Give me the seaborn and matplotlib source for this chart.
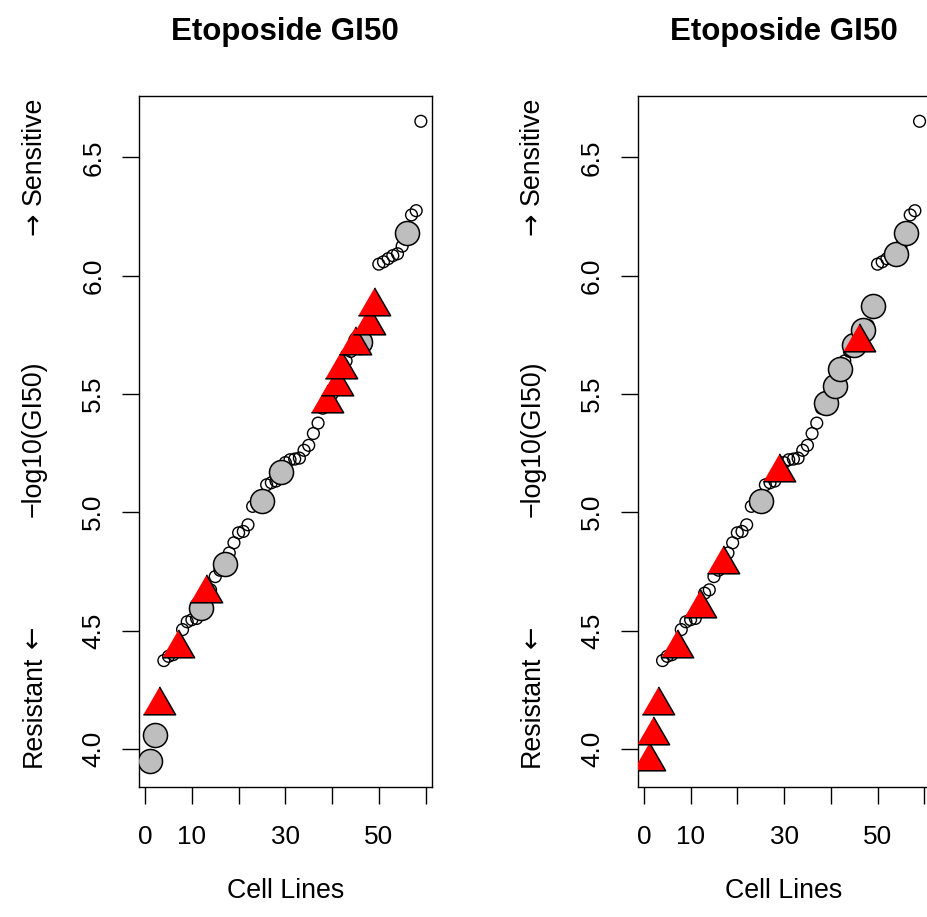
import numpy as np
import pandas as pd
import matplotlib
matplotlib.use("Agg")
import matplotlib.pyplot as plt
import seaborn as sns

sns.set_style("white")
plt.rcParams["font.family"] = ["Liberation Sans", "DejaVu Sans"]
plt.rcParams["text.color"] = "black"
plt.rcParams["axes.labelcolor"] = "black"
plt.rcParams["xtick.color"] = "black"
plt.rcParams["ytick.color"] = "black"

# ---- data (sorted -log10(GI50) per cell line) ----
gi50 = [3.948, 4.060, 4.185, 4.373, 4.391, 4.398, 4.427, 4.504, 4.537, 4.546,
        4.551, 4.595, 4.658, 4.672, 4.728, 4.755, 4.780, 4.828, 4.871, 4.913,
        4.919, 4.947, 5.025, 5.035, 5.046, 5.116, 5.125, 5.132, 5.172, 5.210,
        5.222, 5.225, 5.229, 5.262, 5.283, 5.333, 5.377, 5.440, 5.462, 5.500,
        5.532, 5.605, 5.640, 5.680, 5.706, 5.719, 5.771, 5.790, 5.874, 6.049,
        6.059, 6.072, 6.085, 6.093, 6.125, 6.179, 6.257, 6.275, 6.653]
cell_line = list(range(1, len(gi50) + 1))

left_grey = [1, 2, 12, 17, 25, 29, 46, 56]
left_red = [3, 7, 13, 39, 41, 42, 45, 48, 49]
right_grey = [25, 39, 41, 42, 45, 47, 49, 54, 56]
right_red = [1, 2, 3, 7, 12, 17, 29, 46]

title = "Etoposide GI50"
xlabel = "Cell Lines"
ylabel = "\u2212log10(GI50)"
top_word, top_arrow = "Sensitive", "\u2192"
bottom_word, bottom_arrow = "Resistant", "\u2190"
xticks = [0, 10, 20, 30, 40, 50, 60]
xticklabels = ["0", "10", "", "30", "", "50", ""]
yticks = [4.0, 4.5, 5.0, 5.5, 6.0, 6.5]
yticklabels = ["4.0", "4.5", "5.0", "5.5", "6.0", "6.5"]

df = pd.DataFrame({"cell": cell_line, "gi50": gi50})

W, H = 927, 917
fig = plt.figure(figsize=(W / 100, H / 100), dpi=100)
renderer = fig.canvas.get_renderer()

BOX_W, BOX_TOP, BOX_BOT = 292.7, 95.7, 786.7
FS = 18.8
FL = 19.3
TRI = [(0, 1), (0.866, -0.5), (-0.866, -0.5)]


def ytext(x_px, y_px, s, ha, family=None):
    kw = {}
    if family:
        kw["family"] = family
    return fig.text(x_px / W, 1 - y_px / H, s, rotation=90, rotation_mode="anchor",
                    ha=ha, va="baseline", fontsize=FL, **kw)


def panel(left_px, grey_idx, red_idx):
    ax = fig.add_axes([left_px / W, 1 - BOX_BOT / H, BOX_W / W, (BOX_BOT - BOX_TOP) / H])
    sns.scatterplot(data=df, x="cell", y="gi50", ax=ax, s=72, marker="o",
                    facecolor="none", edgecolor="black", linewidth=1.0, zorder=2)
    g = df[df["cell"].isin(grey_idx)]
    sns.scatterplot(data=g, x="cell", y="gi50", ax=ax, s=300, marker="o",
                    color="#BEBEBE", edgecolor="black", linewidth=1.1, zorder=3)
    r = df[df["cell"].isin(red_idx)]
    sns.scatterplot(data=r, x="cell", y="gi50", ax=ax, s=720, marker=TRI,
                    color="#FF0000", edgecolor="black", linewidth=1.1, zorder=4)
    n = len(gi50)
    xr = (n - 1) * 0.04
    ax.set_xlim(1 - xr, n + xr)
    lo, hi = min(gi50), max(gi50)
    yr = (hi - lo) * 0.04
    ax.set_ylim(lo - yr, hi + yr)
    ax.set_xticks(xticks)
    ax.set_xticklabels(xticklabels)
    ax.set_yticks(yticks)
    ax.set_yticklabels(yticklabels, rotation=90, va="center")
    ax.tick_params(axis="both", direction="out", length=12.2, width=1.0,
                   color="black", labelsize=FS, left=True, bottom=True)
    ax.tick_params(axis="x", pad=15.5)
    ax.tick_params(axis="y", pad=12)
    for sp in ax.spines.values():
        sp.set_visible(True)
        sp.set_color("black")
        sp.set_linewidth(1.0)
    ax.set_xlabel("")
    ax.set_ylabel("")
    cx = left_px + BOX_W / 2
    fig.text(cx / W, 1 - 40 / H, title, ha="center", va="baseline",
             fontsize=22.5, fontweight="bold")
    fig.text(cx / W, 1 - 898 / H, xlabel, ha="center", va="baseline", fontsize=FL)
    bx = left_px - 98.5
    ytext(bx, 439, ylabel, "center")
    space = 0.278 * FL * 100 / 72
    t = ytext(bx, 97, top_word, "right")
    bb = t.get_window_extent(renderer)
    ytext(bx, H - (bb.y0 - space), top_arrow, "right", family="DejaVu Sans")
    t = ytext(bx, 767, bottom_word, "left")
    bb = t.get_window_extent(renderer)
    ytext(bx, H - (bb.y1 + space), bottom_arrow, "left", family="DejaVu Sans")
    return ax


panel(139.0, left_grey, left_red)
panel(637.7, right_grey, right_red)

fig.savefig("out.png", dpi=100)
